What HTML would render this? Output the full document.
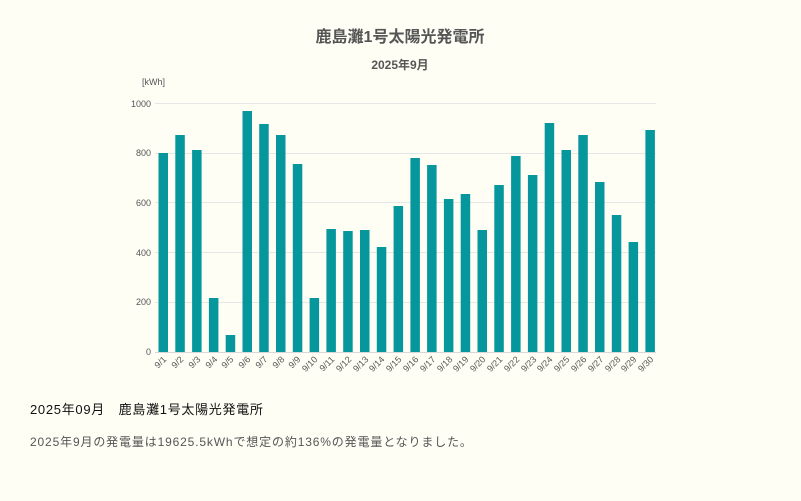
<!DOCTYPE html>
<html><head><meta charset="utf-8"><style>
body{margin:0;background:#fefef5;width:801px;height:501px;overflow:hidden;font-family:"Liberation Sans","Noto Sans CJK JP",sans-serif;}
svg{position:absolute;left:0;top:0}
</style></head><body>
<svg width="801" height="501" xmlns="http://www.w3.org/2000/svg" font-family="Liberation Sans, Noto Sans CJK JP, sans-serif">
<text x="400" y="42" text-anchor="middle" font-size="16" font-weight="bold" fill="#555">鹿島灘1号太陽光発電所</text>
<text x="400" y="69" text-anchor="middle" font-size="12" font-weight="bold" fill="#555">2025年9月</text>
<text x="142" y="85" font-size="9" fill="#555">[kWh]</text>
<g stroke="#e6e6e6" stroke-width="1">
<line x1="155" x2="656" y1="103.5" y2="103.5"/><line x1="155" x2="656" y1="153.5" y2="153.5"/><line x1="155" x2="656" y1="202.5" y2="202.5"/><line x1="155" x2="656" y1="252.5" y2="252.5"/><line x1="155" x2="656" y1="302.5" y2="302.5"/>
</g>
<g font-size="9" fill="#555" text-anchor="end">
<text x="151" y="107">1000</text><text x="151" y="156">800</text><text x="151" y="206">600</text><text x="151" y="256">400</text><text x="151" y="305">200</text><text x="151" y="355">0</text>
</g>
<g fill="#05979c">
<rect x="158.5" y="153" width="9.5" height="199"/>
<rect x="175.3" y="135" width="9.5" height="217"/>
<rect x="192.1" y="150" width="9.5" height="202"/>
<rect x="208.9" y="298" width="9.5" height="54"/>
<rect x="225.7" y="335" width="9.5" height="17"/>
<rect x="242.5" y="111" width="9.5" height="241"/>
<rect x="259.2" y="124" width="9.5" height="228"/>
<rect x="276.0" y="135" width="9.5" height="217"/>
<rect x="292.8" y="164" width="9.5" height="188"/>
<rect x="309.6" y="298" width="9.5" height="54"/>
<rect x="326.4" y="229" width="9.5" height="123"/>
<rect x="343.2" y="231" width="9.5" height="121"/>
<rect x="360.0" y="230" width="9.5" height="122"/>
<rect x="376.8" y="247" width="9.5" height="105"/>
<rect x="393.6" y="206" width="9.5" height="146"/>
<rect x="410.4" y="158" width="9.5" height="194"/>
<rect x="427.1" y="165" width="9.5" height="187"/>
<rect x="443.9" y="199" width="9.5" height="153"/>
<rect x="460.7" y="194" width="9.5" height="158"/>
<rect x="477.5" y="230" width="9.5" height="122"/>
<rect x="494.3" y="185" width="9.5" height="167"/>
<rect x="511.1" y="156" width="9.5" height="196"/>
<rect x="527.9" y="175" width="9.5" height="177"/>
<rect x="544.7" y="123" width="9.5" height="229"/>
<rect x="561.5" y="150" width="9.5" height="202"/>
<rect x="578.3" y="135" width="9.5" height="217"/>
<rect x="595.0" y="182" width="9.5" height="170"/>
<rect x="611.8" y="215" width="9.5" height="137"/>
<rect x="628.6" y="242" width="9.5" height="110"/>
<rect x="645.4" y="130" width="9.5" height="222"/>
</g>
<line x1="155" x2="656" y1="352.5" y2="352.5" stroke="#d8d8d8"/>
<g font-size="9" fill="#555" text-anchor="end">
<text transform="translate(167,360) rotate(-45)">9/1</text>
<text transform="translate(184,360) rotate(-45)">9/2</text>
<text transform="translate(201,360) rotate(-45)">9/3</text>
<text transform="translate(218,360) rotate(-45)">9/4</text>
<text transform="translate(234,360) rotate(-45)">9/5</text>
<text transform="translate(251,360) rotate(-45)">9/6</text>
<text transform="translate(268,360) rotate(-45)">9/7</text>
<text transform="translate(285,360) rotate(-45)">9/8</text>
<text transform="translate(301,360) rotate(-45)">9/9</text>
<text transform="translate(318,360) rotate(-45)">9/10</text>
<text transform="translate(335,360) rotate(-45)">9/11</text>
<text transform="translate(352,360) rotate(-45)">9/12</text>
<text transform="translate(369,360) rotate(-45)">9/13</text>
<text transform="translate(385,360) rotate(-45)">9/14</text>
<text transform="translate(402,360) rotate(-45)">9/15</text>
<text transform="translate(419,360) rotate(-45)">9/16</text>
<text transform="translate(436,360) rotate(-45)">9/17</text>
<text transform="translate(453,360) rotate(-45)">9/18</text>
<text transform="translate(469,360) rotate(-45)">9/19</text>
<text transform="translate(486,360) rotate(-45)">9/20</text>
<text transform="translate(503,360) rotate(-45)">9/21</text>
<text transform="translate(520,360) rotate(-45)">9/22</text>
<text transform="translate(537,360) rotate(-45)">9/23</text>
<text transform="translate(553,360) rotate(-45)">9/24</text>
<text transform="translate(570,360) rotate(-45)">9/25</text>
<text transform="translate(587,360) rotate(-45)">9/26</text>
<text transform="translate(604,360) rotate(-45)">9/27</text>
<text transform="translate(621,360) rotate(-45)">9/28</text>
<text transform="translate(637,360) rotate(-45)">9/29</text>
<text transform="translate(654,360) rotate(-45)">9/30</text>
</g>
<text x="30" y="414" font-size="13" fill="#111" letter-spacing="0.7">2025年09月　鹿島灘1号太陽光発電所</text>
<text x="30" y="446" font-size="12" fill="#555" letter-spacing="0.85">2025年9月の発電量は19625.5kWhで想定の約136%の発電量となりました。</text>
</svg>
</body></html>
